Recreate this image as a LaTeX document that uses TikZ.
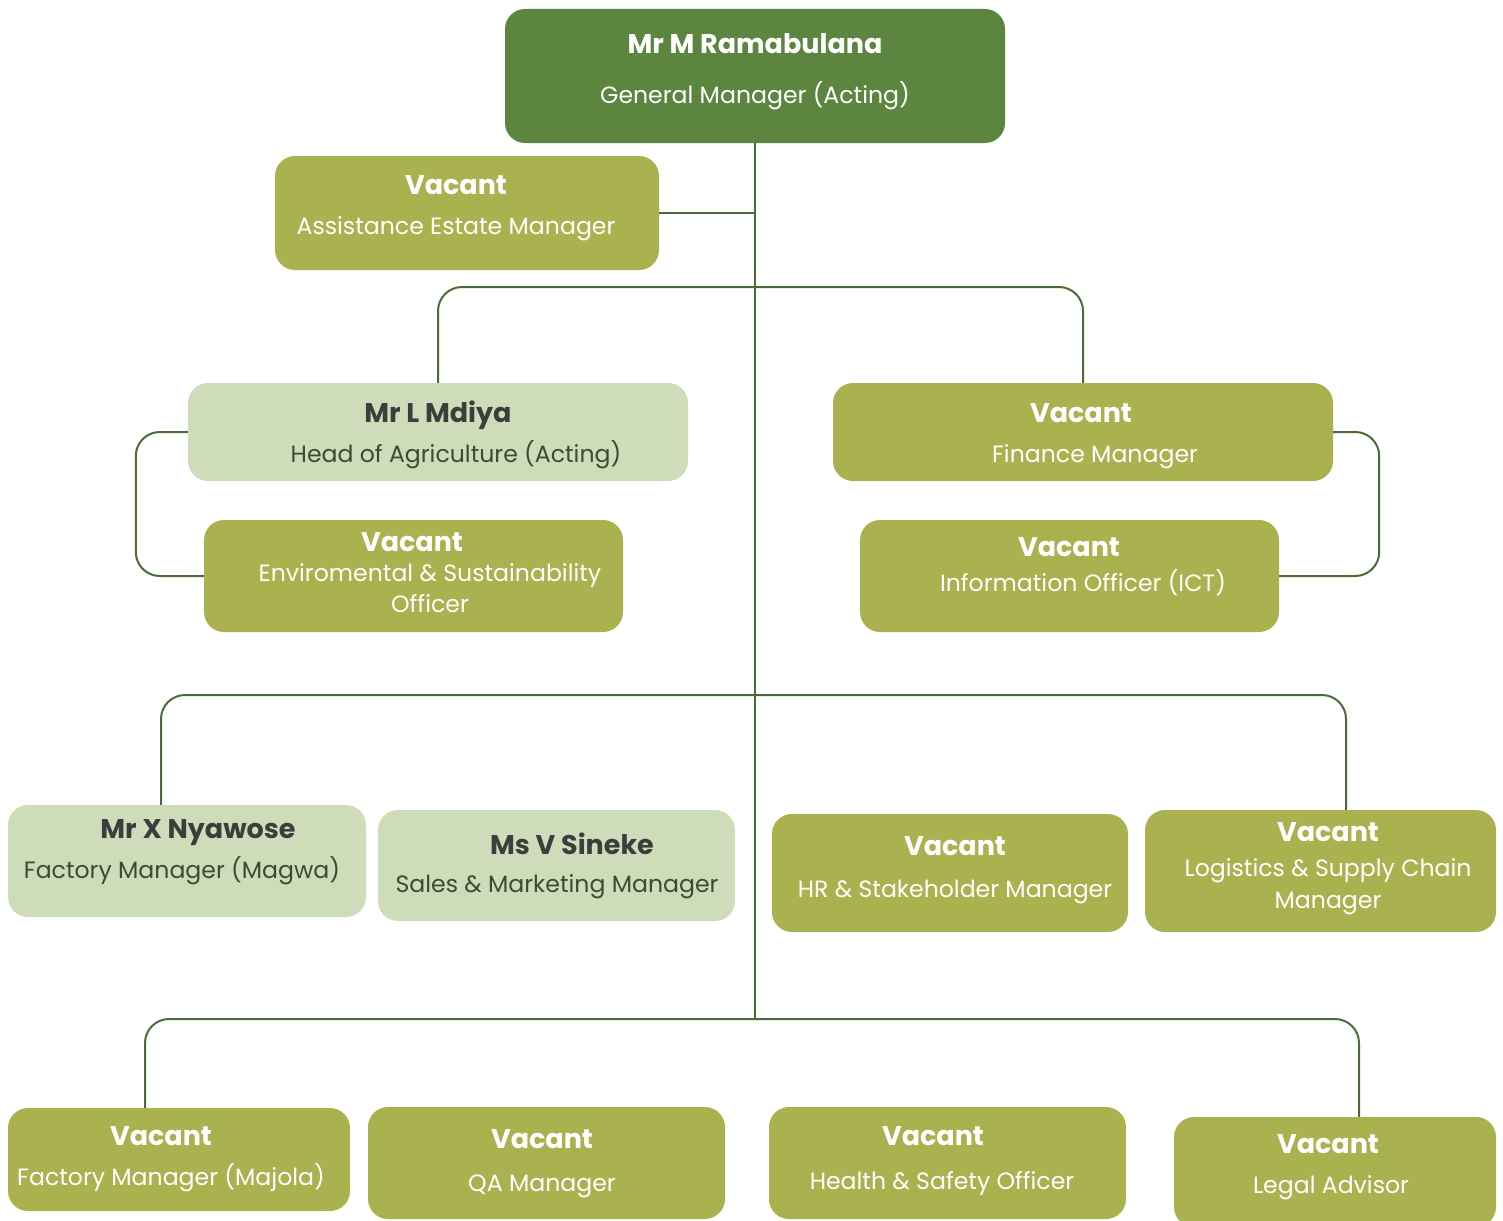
\documentclass[tikz,border=0pt]{standalone}
\usepackage{fontspec}
\setmainfont{Poppins}
\definecolor{gmgreen}{HTML}{5C853F}
\definecolor{olive}{HTML}{A9B24F}
\definecolor{sage}{HTML}{CFDCBA}
\definecolor{linegreen}{HTML}{4B6B38}
\definecolor{namegrey}{HTML}{3D3D3D}
\definecolor{rolegreen}{HTML}{3E4B33}
\tikzset{
  postbox/.style={rectangle, rounded corners=20pt, draw=none, inner sep=0pt},
  gmbox/.style={postbox, fill=gmgreen},
  vacbox/.style={postbox, fill=olive},
  heldbox/.style={postbox, fill=sage},
  postname/.style={anchor=base, inner sep=0pt, font=\fontsize{27}{31}\selectfont\bfseries},
  postrole/.style={anchor=base, inner sep=0pt, font=\fontsize{23.6}{28}\selectfont},
  orgline/.style={draw=linegreen, line width=2pt, rounded corners=24pt},
}
\begin{document}
\begin{tikzpicture}[x=1pt, y=-1pt]
  \useasboundingbox (0,0) rectangle (1503,1220);
  \begin{scope}
    \clip (0,0) rectangle (1503,1220);
    % boxes
    \node[gmbox, minimum width=500pt, minimum height=134pt] (gm) at (755,76) {};
    \node[vacbox, minimum width=384pt, minimum height=114pt] (assist) at (467,213) {};
    \node[heldbox, minimum width=500pt, minimum height=98pt] (agri) at (438,432) {};
    \node[vacbox, minimum width=419pt, minimum height=112pt] (envir) at (413.5,576) {};
    \node[vacbox, minimum width=500pt, minimum height=98pt] (finance) at (1083,432) {};
    \node[vacbox, minimum width=419pt, minimum height=112pt] (ict) at (1069.5,576) {};
    \node[heldbox, minimum width=358pt, minimum height=112pt] (magwa) at (187,861) {};
    \node[heldbox, minimum width=357pt, minimum height=111pt] (sales) at (556.5,865.5) {};
    \node[vacbox, minimum width=356pt, minimum height=118pt] (hr) at (950,873) {};
    \node[vacbox, minimum width=351pt, minimum height=122pt] (logistics) at (1320.5,871) {};
    \node[vacbox, minimum width=342pt, minimum height=103pt] (majola) at (179,1159.5) {};
    \node[vacbox, minimum width=357pt, minimum height=112pt] (qa) at (546.5,1163) {};
    \node[vacbox, minimum width=357pt, minimum height=112pt] (safety) at (947.5,1163) {};
    \node[vacbox, minimum width=322pt, minimum height=110pt] (legal) at (1335,1172) {};
  \end{scope}
  % texts
  \node[postname, text=white] (gm-name) at (755,54) {Mr M Ramabulana};
  \node[postrole, text=white] (gm-role) at (755,104) {General Manager (Acting)};
  \node[postname, text=white] (assist-name) at (456,194) {Vacant};
  \node[postrole, text=white] (assist-role) at (456,234) {Assistance Estate Manager};
  \node[postname, text=namegrey] (agri-name) at (438,422) {Mr L Mdiya};
  \node[postrole, text=rolegreen] (agri-role) at (456,462) {Head of Agriculture (Acting)};
  \node[postname, text=white] (envir-name) at (412,551) {Vacant};
  \node[postrole, text=white] (envir-role) at (430,581) {Enviromental \& Sustainability};
  \node[postrole, text=white] (envir-role2) at (430,612) {Officer};
  \node[postname, text=white] (finance-name) at (1081,422) {Vacant};
  \node[postrole, text=white] (finance-role) at (1095,462) {Finance Manager};
  \node[postname, text=white] (ict-name) at (1069,556) {Vacant};
  \node[postrole, text=white] (ict-role) at (1083,591) {Information Officer (ICT)};
  \node[postname, text=namegrey] (magwa-name) at (198,838) {Mr X Nyawose};
  \node[postrole, text=rolegreen] (magwa-role) at (182,878) {Factory Manager (Magwa)};
  \node[postname, text=namegrey] (sales-name) at (572,854) {Ms V Sineke};
  \node[postrole, text=rolegreen] (sales-role) at (557,892) {Sales \& Marketing Manager};
  \node[postname, text=white] (hr-name) at (955,855) {Vacant};
  \node[postrole, text=white] (hr-role) at (955,897) {HR \& Stakeholder Manager};
  \node[postname, text=white] (logistics-name) at (1328,841) {Vacant};
  \node[postrole, text=white] (logistics-role) at (1328,876) {Logistics \& Supply Chain};
  \node[postrole, text=white] (logistics-role2) at (1328,908) {Manager};
  \node[postname, text=white] (majola-name) at (161,1145) {Vacant};
  \node[postrole, text=white] (majola-role) at (171,1185) {Factory Manager (Majola)};
  \node[postname, text=white] (qa-name) at (542,1148) {Vacant};
  \node[postrole, text=white] (qa-role) at (542,1191) {QA Manager};
  \node[postname, text=white] (safety-name) at (933,1145) {Vacant};
  \node[postrole, text=white] (safety-role) at (942,1189) {Health \& Safety Officer};
  \node[postname, text=white] (legal-name) at (1328,1153) {Vacant};
  \node[postrole, text=white] (legal-role) at (1331,1193) {Legal Advisor};
  % branch points
  \coordinate (j1) at (755,287);
  \coordinate (j2l) at (161,695);
  \coordinate (j2r) at (1346,695);
  \coordinate (j3) at (755,1019);
  \coordinate (j3l) at (145,1019);
  \coordinate (j3r) at (1359,1019);
  % connectors
  \draw[orgline] (gm.south) -- (j3);
  \draw[orgline] (assist.east) -- (assist.east -| gm.south);
  \draw[orgline] (agri.north) |- (j1) -| (finance.north);
  \draw[orgline] (agri.west) -- ++(-52,0) |- (envir.west);
  \draw[orgline] (finance.east) -- ++(46,0) |- (ict.east);
  \draw[orgline] (magwa.north -| j2l) -- (j2l) -- (j2r) -- (logistics.north -| j2r);
  \draw[orgline] (majola.north -| j3l) -- (j3l) -- (j3r) -- (legal.north -| j3r);
\end{tikzpicture}
\end{document}
